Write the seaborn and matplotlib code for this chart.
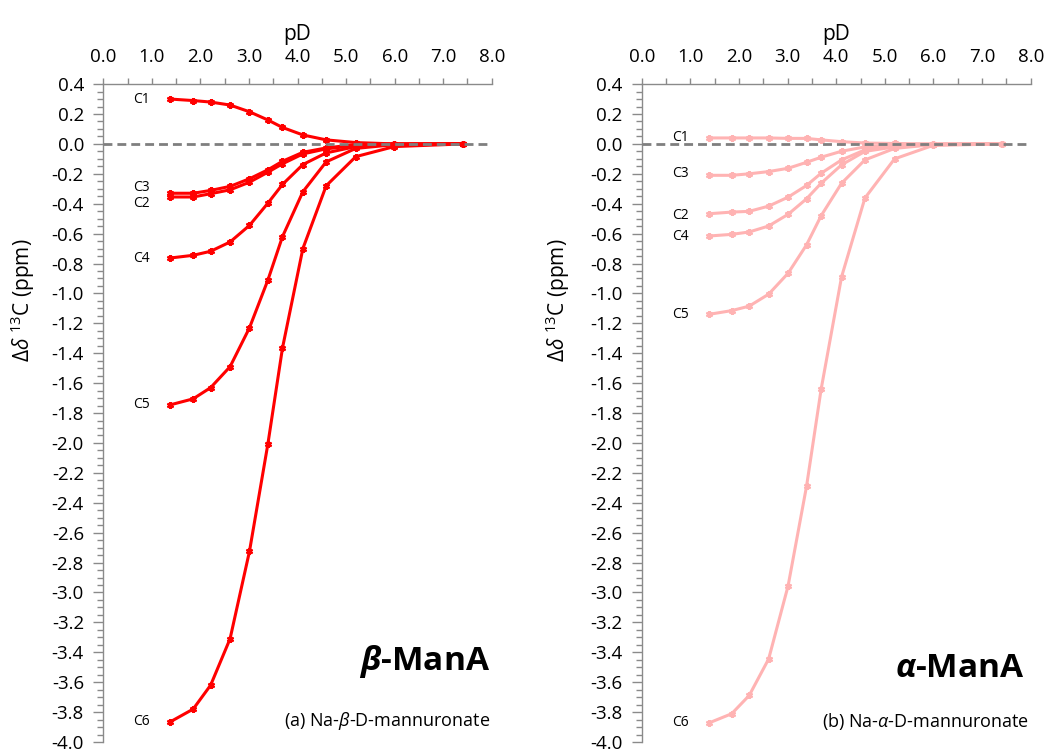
import matplotlib
matplotlib.use("Agg")
import matplotlib.pyplot as plt
from matplotlib.ticker import MultipleLocator, FuncFormatter
import seaborn as sns
import pandas as pd

# pD titration points (shared by both anomers)
pD = [1.38, 1.85, 2.21, 2.61, 3.01, 3.39, 3.69, 4.11, 4.59, 5.20, 5.99, 7.41]
carbons = ["C1", "C2", "C3", "C4", "C5", "C6"]

# Δδ 13C (ppm) for Na-β-D-mannuronate
beta_C1 = [0.30, 0.29, 0.28, 0.26, 0.215, 0.16, 0.11, 0.06, 0.027, 0.009, 0.0, 0.0]
beta_C2 = [-0.355, -0.355, -0.333, -0.307, -0.256, -0.189, -0.133, -0.067, -0.033, -0.011, 0.0, 0.0]
beta_C3 = [-0.33, -0.33, -0.311, -0.284, -0.233, -0.173, -0.116, -0.056, -0.027, -0.004, 0.0, 0.0]
beta_C4 = [-0.763, -0.745, -0.718, -0.656, -0.545, -0.396, -0.271, -0.138, -0.06, -0.018, -0.005, 0.0]
beta_C5 = [-1.745, -1.705, -1.63, -1.49, -1.23, -0.91, -0.62, -0.32, -0.12, -0.03, -0.005, 0.0]
beta_C6 = [-3.865, -3.78, -3.62, -3.31, -2.725, -2.005, -1.365, -0.70, -0.28, -0.085, -0.018, 0.0]

# Δδ 13C (ppm) for Na-α-D-mannuronate
alpha_C1 = [0.04, 0.04, 0.04, 0.04, 0.037, 0.037, 0.027, 0.015, 0.006, 0.003, 0.0, 0.0]
alpha_C2 = [-0.467, -0.456, -0.451, -0.416, -0.356, -0.278, -0.196, -0.107, -0.04, -0.015, -0.003, 0.0]
alpha_C3 = [-0.21, -0.21, -0.20, -0.185, -0.163, -0.123, -0.089, -0.049, -0.02, -0.008, 0.0, 0.0]
alpha_C4 = [-0.616, -0.605, -0.589, -0.549, -0.471, -0.367, -0.263, -0.14, -0.05, -0.02, -0.005, 0.0]
alpha_C5 = [-1.14, -1.115, -1.085, -1.005, -0.865, -0.675, -0.48, -0.263, -0.107, -0.03, -0.005, 0.0]
alpha_C6 = [-3.873, -3.811, -3.689, -3.445, -2.956, -2.289, -1.64, -0.889, -0.362, -0.10, -0.01, 0.0]

beta_series = [beta_C1, beta_C2, beta_C3, beta_C4, beta_C5, beta_C6]
alpha_series = [alpha_C1, alpha_C2, alpha_C3, alpha_C4, alpha_C5, alpha_C6]

# vertical nudge (points) for the carbon tags next to the first point
beta_tag_dy = {"C1": 0, "C2": -4.5, "C3": 4.5, "C4": 0, "C5": 0, "C6": 0}
alpha_tag_dy = {"C1": 0, "C2": -1, "C3": 1, "C4": 0, "C5": 0, "C6": 0}

sns.set_theme(style="white")
plt.rcParams["font.family"] = ["Open Sans", "DejaVu Sans"]
plt.rcParams["mathtext.fontset"] = "custom"
plt.rcParams["mathtext.rm"] = "Open Sans"
plt.rcParams["mathtext.it"] = "Open Sans:italic"
plt.rcParams["mathtext.bf"] = "Open Sans:bold"
plt.rcParams["mathtext.bfit"] = "Open Sans:bold:italic"

AXIS_GREY = "#8a8a8a"


def long_frame(series):
    rows = []
    for name, vals in zip(carbons, series):
        for x, y in zip(pD, vals):
            rows.append({"pD": x, "shift": y, "carbon": name})
    return pd.DataFrame(rows)


def draw_panel(ax, series, color, tag_dy, title_math, subtitle, title_pos, sub_pos, ylabel_x):
    df = long_frame(series)
    sns.lineplot(data=df, x="pD", y="shift", hue="carbon", palette=[color] * len(carbons),
                 marker=(6, 2, 0), markersize=5, markeredgewidth=1.6, markeredgecolor=color,
                 linewidth=2.2, legend=False, sort=False, estimator=None, ax=ax, zorder=3)
    ax.axhline(0, color="#7f7f7f", lw=2.0, ls=(0, (3.2, 1.8)), zorder=4)

    for name, vals in zip(carbons, series):
        ax.annotate(name, xy=(pD[0], vals[0]), xytext=(-14.5, tag_dy[name]),
                    textcoords="offset points", ha="right", va="center",
                    fontsize=10, color="black")

    ax.set_xlim(0, 8)
    ax.set_ylim(-4.0, 0.4)
    ax.xaxis.set_major_locator(MultipleLocator(1.0))
    ax.xaxis.set_minor_locator(MultipleLocator(0.5))
    ax.yaxis.set_major_locator(MultipleLocator(0.2))
    ax.yaxis.set_minor_locator(MultipleLocator(0.05))
    fmt = FuncFormatter(lambda v, p: f"{round(v, 1) + 0.0:.1f}")
    ax.xaxis.set_major_formatter(fmt)
    ax.yaxis.set_major_formatter(fmt)

    ax.xaxis.tick_top()
    ax.xaxis.set_label_position("top")
    for side in ("bottom", "right"):
        ax.spines[side].set_visible(False)
    for side in ("top", "left"):
        ax.spines[side].set_visible(True)
        ax.spines[side].set_color(AXIS_GREY)
        ax.spines[side].set_linewidth(1.0)

    ax.tick_params(axis="x", which="both", top=True, bottom=False, labeltop=True,
                   labelbottom=False, direction="out", length=4, width=1,
                   color=AXIS_GREY, labelsize=13.5, labelcolor="black", pad=9)
    ax.tick_params(axis="y", which="major", left=True, direction="out", length=7, width=1,
                   color=AXIS_GREY, labelsize=13.5, labelcolor="black", pad=7)
    ax.tick_params(axis="y", which="minor", left=True, direction="out", length=4, width=1,
                   color=AXIS_GREY)

    ax.set_xlabel("pD", fontsize=15, labelpad=6, color="black")
    ax.set_ylabel(r"$\Delta\mathit{\delta}$ $^{13}$C (ppm)", fontsize=15, color="black")
    ax.yaxis.set_label_coords(ylabel_x, 0.672)

    ax.text(title_pos[0], title_pos[1], title_math, transform=ax.transAxes, ha="right",
            va="baseline", fontsize=24, fontweight="bold", color="black")
    ax.text(sub_pos[0], sub_pos[1], subtitle, transform=ax.transAxes, ha="right",
            va="baseline", fontsize=13, color="black")
    ax.grid(False)


fig = plt.figure(figsize=(10.46, 7.51), dpi=100)
fig.patch.set_facecolor("white")
ax_beta = fig.add_axes([0.0988, 0.0120, 0.3713, 0.8760])
ax_alpha = fig.add_axes([0.6135, 0.0120, 0.3719, 0.8760])

draw_panel(ax_beta, beta_series, "#ff0000", beta_tag_dy,
           r"$\mathbfit{\beta}$-ManA", r"(a) Na-$\mathit{\beta}$-D-mannuronate",
           (0.9956, 0.109), (0.9956, 0.0248), -0.17)
draw_panel(ax_alpha, alpha_series, "#ffb3b3", alpha_tag_dy,
           r"$\mathbfit{\alpha}$-ManA", r"(b) Na-$\mathit{\alpha}$-D-mannuronate",
           (0.985, 0.099), (0.9966, 0.0223), -0.18)

fig.savefig("out.png", dpi=100, facecolor="white")
